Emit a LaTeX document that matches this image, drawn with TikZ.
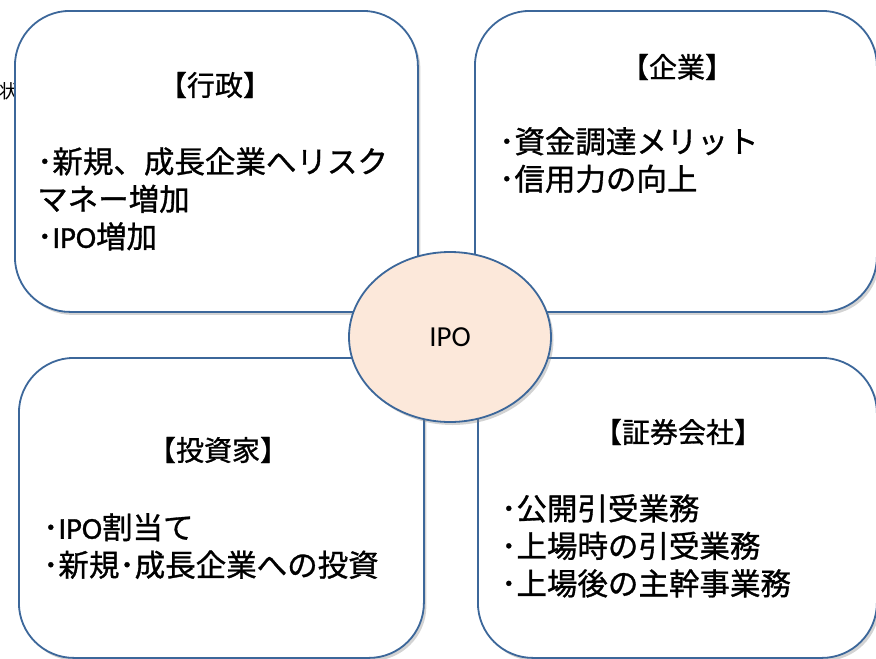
\documentclass[tikz,border=0pt]{standalone}
\usepackage{fontspec}
\setmainfont{Noto Sans CJK JP}[BoldFont={Noto Sans CJK JP}, BoldFeatures={FakeBold=1.0}]
\newfontfamily\latfont{Carlito}[BoldFont={Carlito}, BoldFeatures={FakeBold=1.0}]
\usetikzlibrary{shadows,shapes.geometric}
\definecolor{edgeblue}{HTML}{3C679A}
\definecolor{peach}{HTML}{FCE8DA}
\begin{document}
\begin{tikzpicture}[x=1pt,y=-1pt,
  card/.style={draw=edgeblue, line width=1.8pt, fill=white, rounded corners=55pt,
    drop shadow={shadow xshift=2.5pt,shadow yshift=-3pt,opacity=0.35,fill=gray},
    anchor=north west, inner sep=0pt},
  hub/.style={ellipse, draw=edgeblue, line width=1.8pt, fill=peach, inner sep=0pt,
    drop shadow={shadow xshift=2.5pt,shadow yshift=-3pt,opacity=0.35,fill=gray}},
  title/.style={font=\bfseries\fontsize{28}{34}\selectfont, inner sep=0pt, anchor=center},
  body/.style={font=\bfseries\fontsize{30.5}{37.5}\selectfont, align=left, inner sep=0pt, anchor=north west},
]
\useasboundingbox (0,0) rectangle (876,659);
\clip (0,0) rectangle (876,659);
\node[font=\fontsize{19}{22}\selectfont, inner sep=0pt] (stray) at (9,91) {状};
% boxes
\node[card, minimum width=403pt, minimum height=301pt] (gov) at (14,10) {};
\node[card, minimum width=402pt, minimum height=301pt] (corp) at (474,10) {};
\node[card, minimum width=405pt, minimum height=300pt] (inv) at (18,357) {};
\node[card, minimum width=399pt, minimum height=300pt] (sec) at (477,357) {};
% titles
\node[title] (govt) at (215,85) {【行政】};
\node[title] (corpt) at (677,67) {【企業】};
\node[title] (invt) at (218,450) {【投資家】};
\node[title] (sect) at (678,432) {【証券会社】};
% bodies
\node[body] (govb) at (37,147) {･新規、成長企業へリスク\\マネー増加\\･{\latfont IPO}増加};
\node[body] (corpb) at (499,127) {･資金調達メリット\\･信用力の向上};
\node[body] (invb) at (43,513) {･{\latfont IPO}割当て\\･新規･成長企業への投資};
\node[body] (secb) at (501,494) {･公開引受業務\\･上場時の引受業務\\･上場後の主幹事業務};
% hub
\node[hub, minimum width=202pt, minimum height=170pt] (ipo) at (450,337) {};
\node[font=\latfont\fontsize{29}{34}\selectfont, inner sep=0pt] (ipot) at (ipo.center) {IPO};
\end{tikzpicture}
\end{document}
